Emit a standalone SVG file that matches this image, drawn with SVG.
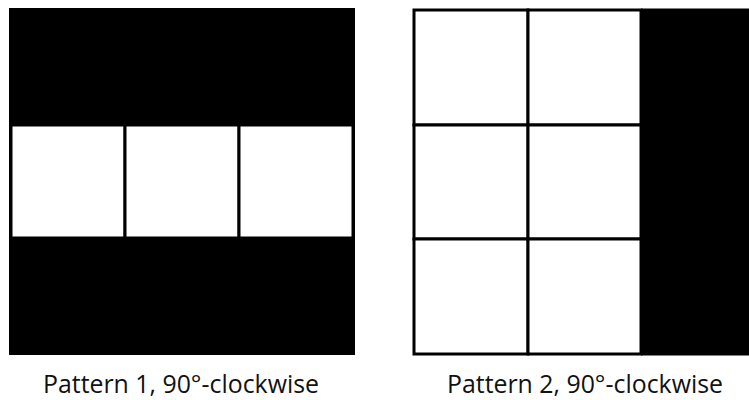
<svg xmlns="http://www.w3.org/2000/svg" width="749" height="400" viewBox="0 0 749 400">
<style>
.blk{fill:#000}
.cell{fill:#fff;stroke:#000;stroke-width:3}
.lbl{font-family:"Open Sans","Liberation Sans",sans-serif;font-size:25px;fill:#111}
</style>
<rect width="749" height="400" fill="#fff"/>
<g id="pattern1">
<rect class="blk" x="9" y="8" width="346" height="347"/>
<rect class="cell" x="11" y="125" width="114" height="113"/>
<rect class="cell" x="125" y="125" width="114" height="113"/>
<rect class="cell" x="239" y="125" width="114" height="113"/>
</g>
<g id="pattern2">
<rect class="blk" x="641" y="8.5" width="108" height="347"/>
<rect class="cell" x="414" y="10" width="114" height="115"/>
<rect class="cell" x="528" y="10" width="113" height="115"/>
<rect class="cell" x="414" y="125" width="114" height="114"/>
<rect class="cell" x="528" y="125" width="113" height="114"/>
<rect class="cell" x="414" y="239" width="114" height="115"/>
<rect class="cell" x="528" y="239" width="113" height="115"/>
</g>
<g id="labels">
<text class="lbl" x="43" y="393" textLength="276" lengthAdjust="spacingAndGlyphs">Pattern 1, 90°-clockwise</text>
<text class="lbl" x="447" y="393" textLength="276" lengthAdjust="spacingAndGlyphs">Pattern 2, 90°-clockwise</text>
</g>
</svg>
